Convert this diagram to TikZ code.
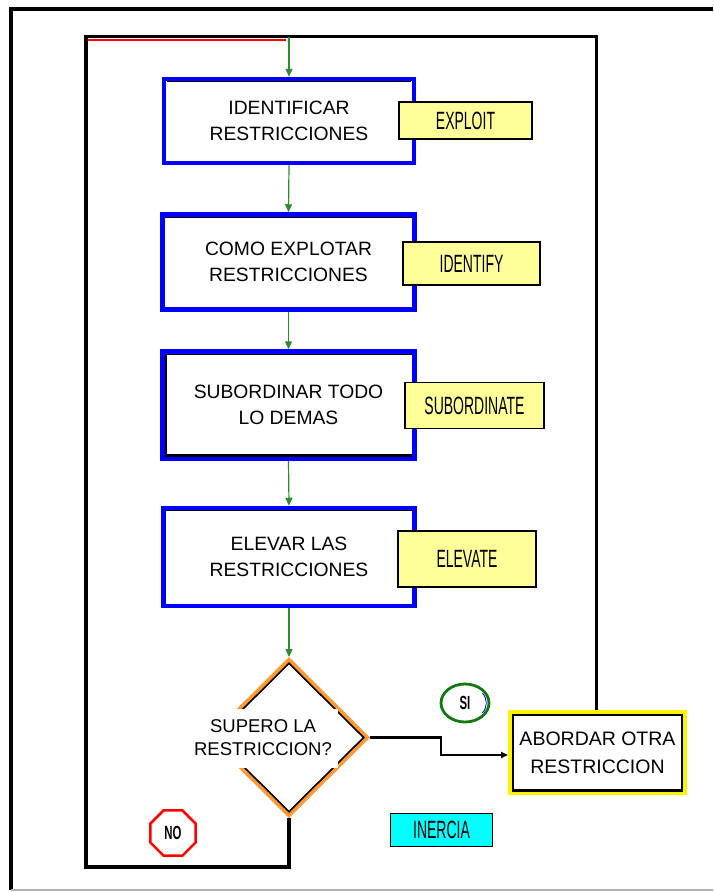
\documentclass[tikz,border=0pt]{standalone}
\usepackage{fontspec}
\usepackage{graphicx}
\setmainfont{Liberation Sans}
\usetikzlibrary{shapes.geometric,arrows.meta,calc}

\definecolor{tagyellow}{HTML}{FFFF99}
\definecolor{tagcyan}{HTML}{00FFFF}
\definecolor{flowgreen}{HTML}{2E8B2E}
\definecolor{decorange}{HTML}{FF9933}
\definecolor{sigreen}{HTML}{117711}

\newcommand\boxfont{\fontsize{19.3}{25.5}\selectfont}
\newcommand\tagtext[1]{\scalebox{0.56}[1]{\fontsize{25}{25}\selectfont #1}}
\newcommand\marktext[1]{\scalebox{0.6}[1]{\fontsize{19}{19}\selectfont\bfseries #1}}

\tikzset{
  flowbox/.style={draw=blue, line width=4.5pt, fill=white, inner sep=0pt,
    font=\boxfont, align=center},
  tagbox/.style={draw=black, line width=1.5pt, fill=tagyellow, inner sep=0pt},
  flowarrow/.style={draw=flowgreen, line width=1.2pt,
    -{Triangle[length=8pt,width=7pt]}},
  loopline/.style={draw=black, line width=3.5pt},
  frameline/.style={draw=black, line width=3.5pt},
  innerline/.style={draw=black, line width=1.2pt},
}

\begin{document}
\begin{tikzpicture}[x=1pt,y=-1pt]
\useasboundingbox (0,0) rectangle (713,892);
\fill[white] (0,0) rectangle (713,892);

% outer frame
\draw[frameline] (713,9) -- (11,9) -- (11,890);
\draw[gray!60, line width=2pt] (11,890) -- (713,890);

% process boxes
\node[flowbox, minimum width=250pt, minimum height=84pt] (b1) at (289,121)
  {IDENTIFICAR\\RESTRICCIONES};
\node[flowbox, minimum width=252pt, minimum height=95pt] (b2) at (288.5,262)
  {COMO EXPLOTAR\\RESTRICCIONES};
\node[flowbox, minimum width=252pt, minimum height=107pt] (b3) at (288.5,405)
  {SUBORDINAR TODO\\LO DEMAS};
\node[flowbox, minimum width=251pt, minimum height=98pt] (b4) at (289,557)
  {ELEVAR LAS\\RESTRICCIONES};

% dark inner edges of the boxes
\foreach \b in {b1,b2,b4}
  \draw[innerline] ($(\b.north west)+(5,5)$) -- ($(\b.north east)+(-5,5)$);
\draw[innerline] ($(b3.north west)+(5,5)$) -- ($(b3.north east)+(-5,5)$);
\draw[black, line width=2.5pt] ($(b3.north west)+(5.5,5)$)
  -- ($(b3.south west)+(5.5,-5.5)$) -- ($(b3.south east)+(-5,-5.5)$);

% English tags
\node[tagbox, minimum width=133pt, minimum height=37pt] (t1) at (465.5,120.5)
  {\tagtext{EXPLOIT}};
\node[tagbox, minimum width=137pt, minimum height=43pt] (t2) at (471.5,263.5)
  {\tagtext{IDENTIFY}};
\node[tagbox, minimum width=139pt, minimum height=46pt] (t3) at (474.5,405.5)
  {\tagtext{SUBORDINATE}};
\node[tagbox, minimum width=138pt, minimum height=56pt] (t4) at (467,559)
  {\tagtext{ELEVATE}};

% decision
\node[diamond, draw=decorange, line width=4pt, fill=white, inner sep=0pt,
  minimum width=158pt, minimum height=157pt] (dec) at (289,737.5) {};
\node[diamond, draw=black, line width=1.6pt, inner sep=0pt,
  minimum width=150pt, minimum height=149pt] (deci) at (289,737.5) {};
\node[fill=white, inner sep=0pt, minimum width=150pt, minimum height=59pt,
  font=\fontsize{18.5}{23}\selectfont, align=center] (decq) at (263,738)
  {SUPERO LA\\RESTRICCION?};

% next constraint box
\node[draw=yellow, line width=4pt, fill=white, inner sep=0pt,
  minimum width=175pt, minimum height=81pt,
  font=\fontsize{19.5}{28}\selectfont, align=center] (ab) at (597.5,752.5)
  {ABORDAR OTRA\\RESTRICCION};
\draw[black, line width=2pt] ($(ab.north west)+(5,4.5)$) rectangle ($(ab.south east)+(-5,-4.5)$);
\draw[black, line width=1.5pt] ($(ab.north east)+(-5.5,4.5)$) -- ($(ab.south east)+(-5.5,-5.5)$)
  -- ($(ab.south west)+(5,-5.5)$);

% answer marks
\node[ellipse, draw=sigreen, line width=2.8pt, fill=white, inner sep=0pt,
  minimum width=48pt, minimum height=38pt] (si) at (465,703)
  {\marktext{SI}};
\draw[blue, line width=0.8pt] (si.center) ++(-35:21.3 and 17.3) arc[start angle=-35, end angle=35, x radius=21.3, y radius=17.3];
\node[regular polygon, regular polygon sides=8, draw=red, line width=2.5pt,
  fill=white, inner sep=0pt, minimum size=49pt] (no) at (173,833)
  {\marktext{NO}};
\node[draw=black, line width=1.2pt, fill=tagcyan, inner sep=0pt,
  minimum width=102pt, minimum height=33pt] (inercia) at (441.5,830)
  {\tagtext{INERCIA}};

% loop path
\coordinate (lt) at (86,36.5);
\coordinate (lb) at (86,867);
\coordinate (rt) at (596.5,36.5);
\draw[red, line width=2.5pt] (87,39.8) -- (286,39.8);
\draw[loopline] (dec.south) -- (dec.south |- lb) -- (lb) -- (lt) -- (rt) -- (rt |- ab.north);

% flow arrows
\draw[flowarrow] (b1.north |- lt) -- (b1.north);
\draw[flowarrow] (b1.south) -- (b2.north);
\draw[flowarrow] (b2.south) -- (b3.north);
\draw[flowarrow] (b3.south) -- (b4.north);
\draw[flowarrow] (b4.south) -- (dec.north);

% yes branch
\coordinate (bend) at ($(dec.east)+(71,0)$);
\draw[black, line width=2.5pt, -{Triangle[length=7pt,width=6pt]}]
  (dec.east) -- (bend) |- ($(ab.west)+(0,2.5)$);
\end{tikzpicture}
\end{document}
